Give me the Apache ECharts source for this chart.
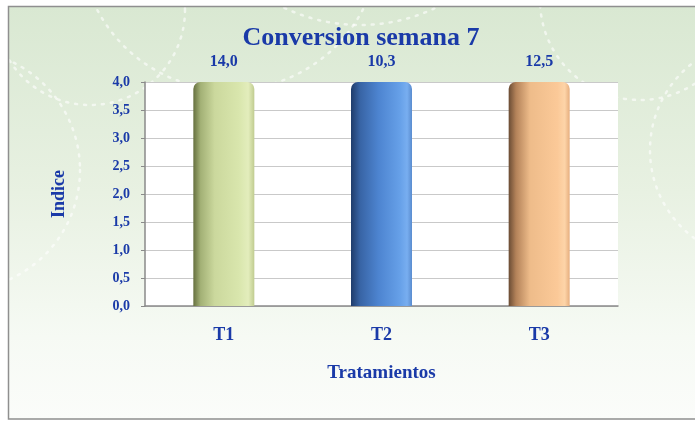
<!DOCTYPE html>
<html>
<head>
<meta charset="utf-8">
<script src="https://cdn.jsdelivr.net/npm/echarts@6/dist/echarts.min.js"></script>
<style>
  html, body { margin: 0; padding: 0; background: #fff; }
  #chart { width: 695px; height: 421px; }
</style>
</head>
<body>
<div id="chart"></div>
<script>
// Treatments and their week-7 conversion index
const categories = ['T1', 'T2', 'T3'];
const values = [14.0, 10.3, 12.5];
const yTicks = ['0,0', '0,5', '1,0', '1,5', '2,0', '2,5', '3,0', '3,5', '4,0'];

const TEXT_BLUE = '#1a3aa8';
const SERIF = '"Liberation Serif", "DejaVu Serif", serif';

// cylinder-like horizontal shading for each bar
function cylinder(stops) {
  return new echarts.graphic.LinearGradient(0, 0, 1, 0,
    stops.map(function (s) { return { offset: s[0], color: s[1] }; }));
}
const barFills = [
  cylinder([[0, '#66703f'], [0.12, '#a3b176'], [0.35, '#cbd89d'], [0.75, '#d9e6ad'], [0.9, '#e3edbc'], [1, '#c0cc90']]),
  cylinder([[0, '#1f3c6b'], [0.15, '#3864a5'], [0.45, '#4d84d0'], [0.8, '#66a0e8'], [0.92, '#78aef0'], [1, '#5a8ccf']]),
  cylinder([[0, '#6a4c34'], [0.12, '#b38259'], [0.35, '#eebc8a'], [0.8, '#fbc998'], [0.92, '#fdd4a8'], [1, '#e6ae7e']])
];

function comma(v) { return v.toFixed(1).replace('.', ','); }

// faint dotted swirls in the upper backdrop
const swirls = [
  { cx: 360, cy: -150, r: 175 },
  { cx: 90, cy: 10, r: 95 },
  { cx: 230, cy: -60, r: 150 },
  { cx: 640, cy: 0, r: 100 },
  { cx: 760, cy: 150, r: 110 },
  { cx: -40, cy: 170, r: 120 }
].map(function (c) {
  return {
    type: 'circle', silent: true,
    shape: { cx: c.cx, cy: c.cy, r: c.r },
    style: { fill: null, stroke: 'rgba(255,255,255,0.6)', lineWidth: 2.5, lineDash: [2, 7], lineCap: 'round' },
    z: -9
  };
});

const chart = echarts.init(document.getElementById('chart'), null, { renderer: 'canvas' });
chart.setOption({
  animation: false,
  backgroundColor: '#ffffff',
  graphic: [
    {
      type: 'group', z: -10,
      clipPath: { type: 'rect', shape: { x: 9, y: 7, width: 700, height: 412 } },
      children: [
        {
          type: 'rect', silent: true, z: -10,
          shape: { x: 9, y: 7, width: 700, height: 412 },
          style: {
            fill: new echarts.graphic.LinearGradient(0, 0, 0, 1, [
              { offset: 0, color: '#d9e8d2' },
              { offset: 0.45, color: '#e8f1e2' },
              { offset: 0.8, color: '#f6faf4' },
              { offset: 1, color: '#fbfcfa' }
            ])
          }
        }
      ].concat(swirls)
    },
    {
      type: 'rect', silent: true, z: 100,
      shape: { x: 8.5, y: 6.5, width: 700, height: 412.5 },
      style: { fill: null, stroke: '#8f8f8f', lineWidth: 1.5 }
    }
  ],
  title: {
    text: 'Conversion semana 7',
    left: 356, top: 20, textAlign: 'center',
    textStyle: { fontFamily: SERIF, fontWeight: 'bold', fontSize: 26, color: TEXT_BLUE }
  },
  grid: {
    left: 145, right: 77, top: 82, bottom: 115,
    show: true, backgroundColor: '#ffffff', borderWidth: 0
  },
  xAxis: {
    type: 'category',
    data: categories,
    name: 'Tratamientos',
    nameLocation: 'middle',
    nameGap: 58,
    nameTextStyle: { fontFamily: SERIF, fontWeight: 'bold', fontSize: 19, color: TEXT_BLUE },
    axisLine: { lineStyle: { color: '#8a8a8a', width: 1.5 } },
    axisTick: { show: false },
    axisLabel: { margin: 20, fontFamily: SERIF, fontWeight: 'bold', fontSize: 18, color: TEXT_BLUE }
  },
  yAxis: {
    type: 'value',
    min: 0, max: 4, interval: 0.5,
    name: 'Indice',
    nameLocation: 'middle',
    nameGap: 77,
    nameTextStyle: { fontFamily: SERIF, fontWeight: 'bold', fontSize: 18, color: TEXT_BLUE },
    axisLine: { show: true, lineStyle: { color: '#8a8a8a', width: 1.5 } },
    axisTick: { show: true, length: 4, lineStyle: { color: '#8a8a8a' } },
    splitLine: { lineStyle: { color: '#c9c9c9', width: 1 } },
    axisLabel: {
      margin: 15,
      fontFamily: SERIF, fontWeight: 'bold', fontSize: 14, color: TEXT_BLUE,
      formatter: function (v) { return yTicks[Math.round(v / 0.5)]; }
    }
  },
  series: [{
    type: 'bar',
    clip: true,
    barWidth: 61,
    data: values.map(function (v, i) {
      return { value: v, itemStyle: { color: barFills[i] } };
    }),
    itemStyle: { borderRadius: [7, 7, 0, 0] },
    label: {
      show: true, position: 'top', distance: 12,
      fontFamily: SERIF, fontWeight: 'bold', fontSize: 16, color: TEXT_BLUE,
      formatter: function (p) { return comma(p.value); }
    }
  }]
});
</script>
</body>
</html>
